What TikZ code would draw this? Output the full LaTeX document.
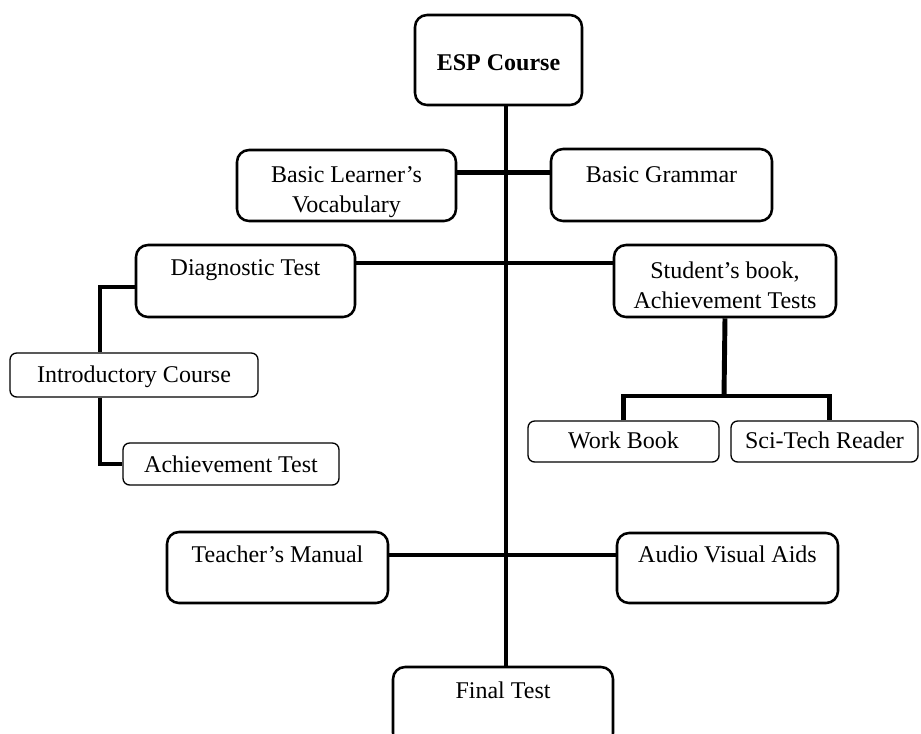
\documentclass[tikz,border=0pt]{standalone}
\usepackage{fontspec}
\setmainfont{Liberation Serif}
\usepackage{tikz}

\begin{document}
\begin{tikzpicture}[x=0.75pt,y=-0.75pt,
    font=\fontsize{18}{21}\selectfont,
    bigbox/.style={draw,line width=1.9pt,rounded corners=9pt,inner sep=0pt,align=center},
    smallbox/.style={draw,line width=1pt,rounded corners=5pt,inner sep=0pt,align=center},
    link/.style={line width=3.7pt}]
      \useasboundingbox (0,0) rectangle (921,733);
      \node[bigbox,minimum width=125.25pt,text height=41.25pt,text depth=26.25pt] (a) at (498.5, 60) {\textbf{ESP Course}};
      \node[bigbox,minimum width=164.25pt,text height=46.5pt,text depth=6.75pt] (b) at (346.5, 185.5) {Basic Learner’s\\[1.5pt] Vocabulary};
      \node[bigbox,minimum width=165.75pt,text height=24.75pt,text depth=29.25pt] (c) at (661.5, 185) {Basic Grammar};
      \node[bigbox,minimum width=164.25pt,text height=22.5pt,text depth=31.5pt] (d) at (245.5, 281) {Diagnostic Test};
      \node[bigbox,minimum width=166.5pt,text height=47.25pt,text depth=6.75pt] (e) at (725, 281) {Student’s book,\\[1.5pt] Achievement Tests};
      \node[smallbox,minimum width=186pt,text height=21.75pt,text depth=11.25pt] (f) at (134, 375) {Introductory Course};
      \node[smallbox,minimum width=162pt,text height=21.75pt,text depth=9.75pt] (g) at (231, 464) {Achievement Test};
      \node[smallbox,minimum width=143.25pt,text height=20.25pt,text depth=10.5pt] (h) at (623.5, 441.5) {Work Book};
      \node[smallbox,minimum width=140.25pt,text height=20.25pt,text depth=10.5pt] (i) at (824.5, 441.5) {Sci-Tech Reader};
      \node[bigbox,minimum width=165.75pt,text height=22.5pt,text depth=30.75pt] (j) at (277.5, 567.5) {Teacher’s Manual};
      \node[bigbox,minimum width=165.75pt,text height=21.75pt,text depth=30.75pt] (k) at (727.5, 568) {Audio Visual Aids};
      \node[bigbox,minimum width=165pt,text height=23.25pt,text depth=35.25pt] (l) at (503, 706) {Final Test};
      \coordinate (m) at (724, 396);
      \draw[link] ([xshift=5.6pt]a.south) -- ([xshift=5.6pt]a.south |- l.north);
      \draw[link] ([yshift=10.1pt]b.east) -- ([yshift=10.1pt]b.east -| c.west);
      \draw[link] ([yshift=13.5pt]d.east) -- ([yshift=13.5pt]d.east -| e.west);
      \draw[link] ([yshift=9.4pt]j.east) -- ([yshift=9.4pt]j.east -| k.west);
      \draw[link] ([yshift=-4.5pt]d.west) -| ([xshift=-25.5pt]f.north);
      \draw[link] ([xshift=-25.5pt]f.south) |- (g.west);
      \draw[link] (e.south) -- (m);
      \draw[link] (h.north) |- (m) -| ([xshift=3.4pt]i.north);
    \end{tikzpicture}
\end{document}
